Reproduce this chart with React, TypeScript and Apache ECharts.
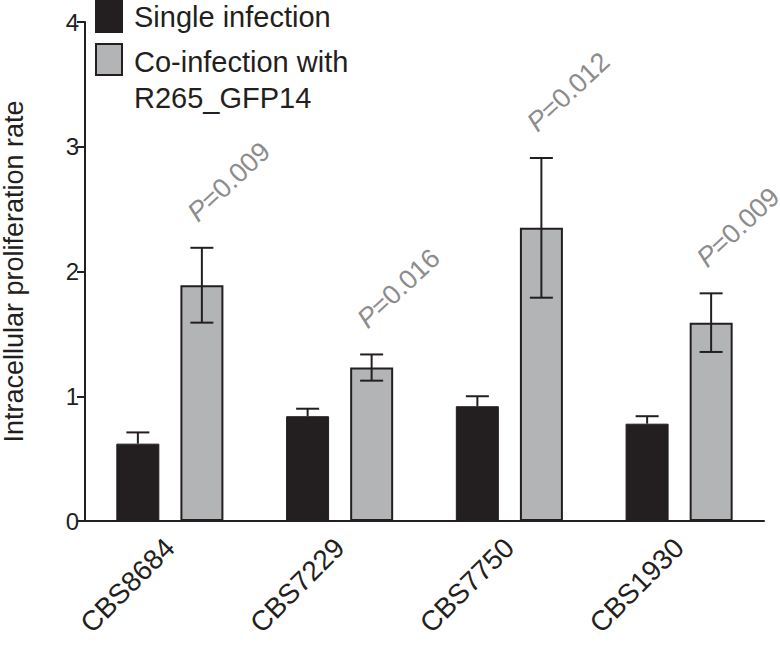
import React, { useEffect, useRef } from "react";
import * as echarts from "echarts";

const categories = ["CBS8684", "CBS7229", "CBS7750", "CBS1930"];
const singleMean = [0.62, 0.84, 0.92, 0.78];
const singleErr = [0.09, 0.06, 0.08, 0.06];
const coMean = [1.89, 1.23, 2.35, 1.59];
const coErr = [0.3, 0.105, 0.56, 0.235];
const pValues = ["0.009", "0.016", "0.012", "0.009"];
const yTicks = [0, 1, 2, 3, 4];
const legendNames = ["Single infection", "Co-infection with\nR265_GFP14"];

const FONT = "'Liberation Sans', Arial, Helvetica, sans-serif";
const DARK = "#231f20";
const GREY = "#b3b4b6";
const PGREY = "#8c8c8c";
const BAR_OFFSET = 32;

export default function App() {
  const ref = useRef<HTMLDivElement>(null);
  useEffect(() => {
    if (!ref.current) return;
    const chart = echarts.init(ref.current, null, { renderer: "svg" });

    const errRender = (offset: number, both: boolean) => (params: any, api: any) => {
      const i = api.value(0);
      const lo = api.coord([i, api.value(1)]);
      const hi = api.coord([i, api.value(2)]);
      const x = lo[0] + offset;
      const cap = 11.5;
      const style = { stroke: DARK, lineWidth: 2 };
      const children: any[] = [
        { type: "line", shape: { x1: x, y1: lo[1], x2: x, y2: hi[1] }, style },
        { type: "line", shape: { x1: x - cap, y1: hi[1], x2: x + cap, y2: hi[1] }, style },
      ];
      if (both) {
        children.push({ type: "line", shape: { x1: x - cap, y1: lo[1], x2: x + cap, y2: lo[1] }, style });
      }
      return { type: "group", children };
    };

    chart.setOption({
      animation: false,
      grid: { left: 85, right: 16, top: 22, bottom: 126, containLabel: false, outerBoundsMode: "none" },
      xAxis: {
        type: "category",
        data: categories,
        axisLine: { lineStyle: { color: DARK, width: 2 } },
        axisTick: { alignWithLabel: true, length: 15, lineStyle: { color: DARK, width: 2 } },
        axisLabel: { rotate: 45, fontSize: 28, color: DARK, fontFamily: FONT, margin: 22 },
      },
      yAxis: {
        type: "value",
        min: yTicks[0],
        max: yTicks[yTicks.length - 1],
        interval: 1,
        name: "Intracellular proliferation rate",
        nameLocation: "middle",
        nameGap: 58,
        nameTextStyle: { fontSize: 27, color: DARK, fontFamily: FONT },
        splitLine: { show: false },
        axisLine: { show: true, lineStyle: { color: DARK, width: 2 } },
        axisTick: { show: true, length: 8, lineStyle: { color: DARK, width: 2 } },
        axisLabel: { fontSize: 24, color: DARK, fontFamily: FONT, margin: 6 },
      },
      series: [
        {
          name: legendNames[0],
          type: "bar",
          data: singleMean,
          barWidth: 43,
          barGap: "49%",
          itemStyle: { color: DARK, borderColor: DARK, borderWidth: 1 },
        },
        {
          name: legendNames[1],
          type: "bar",
          data: coMean,
          barWidth: 43,
          barGap: "49%",
          itemStyle: { color: GREY, borderColor: DARK, borderWidth: 2 },
        },
        {
          type: "custom",
          z: 5,
          renderItem: errRender(-BAR_OFFSET, false),
          data: singleMean.map((m, i) => [i, m, m + singleErr[i]]),
        },
        {
          type: "custom",
          z: 5,
          renderItem: errRender(BAR_OFFSET, true),
          data: coMean.map((m, i) => [i, m - coErr[i], m + coErr[i]]),
        },
        {
          type: "custom",
          z: 6,
          renderItem: (params: any, api: any) => {
            const i = api.value(0);
            const p = api.coord([i, api.value(1)]);
            return {
              type: "text",
              x: p[0] + BAR_OFFSET + 27,
              y: p[1] - 66,
              rotation: (43 * Math.PI) / 180,
              style: {
                text: "{i|P}=" + pValues[params.dataIndex],
                fill: PGREY,
                fontSize: 27,
                fontFamily: FONT,
                align: "center",
                verticalAlign: "middle",
                rich: {
                  i: { fontStyle: "italic", fontSize: 27, fontFamily: FONT, fill: PGREY },
                },
              },
            };
          },
          data: coMean.map((m, i) => [i, m + coErr[i]]),
        },
      ],
      graphic: [
        { type: "rect", shape: { x: 96, y: 1, width: 26, height: 31 }, style: { fill: DARK, stroke: DARK, lineWidth: 2 } },
        { type: "rect", shape: { x: 96, y: 44, width: 26, height: 31 }, style: { fill: GREY, stroke: DARK, lineWidth: 2 } },
        {
          type: "text",
          x: 134,
          y: 17,
          style: { text: legendNames[0], fill: DARK, fontSize: 29, fontFamily: FONT, verticalAlign: "middle" },
        },
        {
          type: "text",
          x: 134,
          y: 44,
          style: { text: legendNames[1], fill: DARK, fontSize: 29, fontFamily: FONT, verticalAlign: "top", lineHeight: 36 },
        },
      ],
    });
    return () => chart.dispose();
  }, []);
  return <div ref={ref} style={{ width: 780, height: 647, position: "absolute", left: 0, top: 0 }} />;
}
